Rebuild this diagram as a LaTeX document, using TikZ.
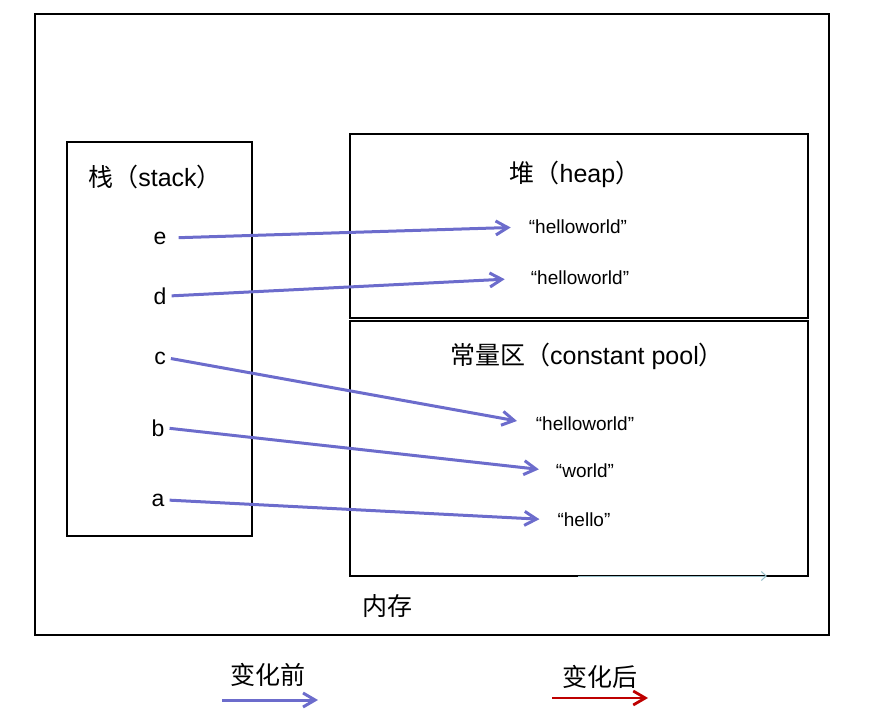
\documentclass[tikz,border=0pt]{standalone}
\usepackage{fontspec}
\setmainfont{Liberation Sans}
\newfontfamily\cjk{Noto Sans CJK SC}
\usetikzlibrary{arrows.meta, positioning}
\definecolor{before}{RGB}{108,108,204}
\definecolor{after}{RGB}{190,0,0}
\definecolor{faint}{RGB}{150,190,200}

\begin{document}
\begin{tikzpicture}[x=1pt, y=-1pt,
    box/.style={draw, line width=2.6pt},
    ref/.style={before, line width=3pt, -{Straight Barb[length=12pt, width=14pt]}},
    newref/.style={after, line width=2.8pt, -{Straight Barb[length=12pt, width=14pt]}},
    var/.style={font=\fontsize{23}{26}\selectfont, inner sep=2pt},
    str/.style={font=\fontsize{19}{22}\selectfont, inner sep=2pt},
    title/.style={font=\fontsize{25}{28}\selectfont}]
\useasboundingbox (0,0) rectangle (876,727);
% Memory areas
\draw[box] (35,14) rectangle (829,635);
\draw[box] (67,142) rectangle (252,536);
\draw[box] (350,134) rectangle (808,318);
\draw[box] (350,321) rectangle (808,576);
\node[title] (stack) at (155,177) {{\cjk 栈（}stack{\cjk ）}};
\node[title] (heap) at (575,174) {{\cjk 堆（}heap{\cjk ）}};
\node[title] (pool) at (587,356) {{\cjk 常量区（}constant pool{\cjk ）}};
\node[title] (mem) at (387,606) {\cjk 内存};
% Variables on the stack
\foreach \v/\x/\y in {e/160/238, d/160/296, c/160/358, b/158/428, a/158/500}
    \node[var] (\v) at (\x,\y) {\v};
% Strings
\node[str] (h1) at (578,227) {“helloworld”};
\node[str] (h2) at (580,278) {“helloworld”};
\node[str] (p1) at (585,424) {“helloworld”};
\node[str] (p2) at (585,471) {“world”};
\node[str] (p3) at (584,520) {“hello”};
% References
\foreach \v/\s/\a/\b in {e/h1/10/16, d/h2/3/24, c/p1/3/17, b/p2/3/15, a/p3/3/16}
    \draw[ref, shorten <=\a pt, shorten >=\b pt] (\v.east) -- (\s.west);
\coordinate (f0) at (578,576);
\coordinate (f1) at (767,576);
\draw[faint, line width=1pt, -{Straight Barb[length=5pt, width=9pt]}] (f0) -- (f1);
% Legend
\node[title] (old) at (268,675) {\cjk 变化前};
\node[title] (new) at (600,677) {\cjk 变化后};
\coordinate (old0) at (222,700);
\coordinate (old1) at (318,700);
\coordinate (new0) at (552,698);
\coordinate (new1) at (648,698);
\draw[ref] (old0) -- (old1);
\draw[newref] (new0) -- (new1);
\end{tikzpicture}
\end{document}
